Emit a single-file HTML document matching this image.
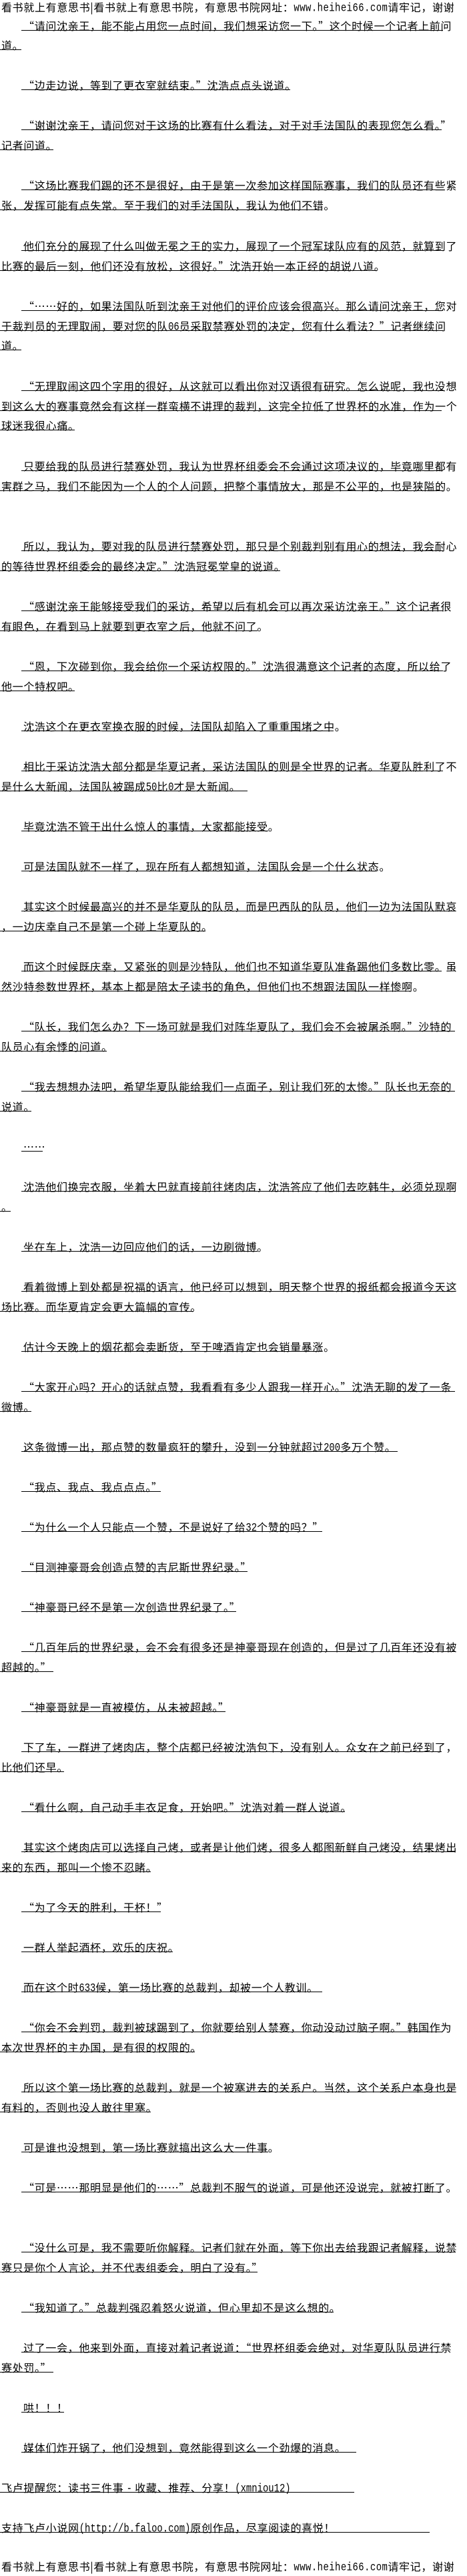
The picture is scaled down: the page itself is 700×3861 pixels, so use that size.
<!DOCTYPE html>
<html lang="zh-CN">
<head>
<meta charset="utf-8">
<title>有意思书院</title>
<style>
html,body{margin:0;padding:0;background:#fff}
body{position:relative;width:700px;height:3860px;overflow:hidden;color:#000;
font-family:"Liberation Sans","WenQuanYi Zen Hei","Noto Sans CJK SC",sans-serif}
p{position:absolute;left:0;margin:-17px 0 0;width:700px;height:20px;padding:0 0 0 2px;box-sizing:border-box;
font-family:"WenQuanYi Zen Hei","Noto Sans CJK SC",sans-serif;font-size:16px;line-height:20px;letter-spacing:.67px;white-space:nowrap}
p.i{padding-left:35px}
p::after{content:"";position:absolute;left:0;top:17px;height:1px;background:#000;width:var(--e)}
p.i::after{left:32px;width:calc(var(--e) - 32px)}
p.n::after{display:none}
b{display:inline-block;font:normal 13.9px/20px "Liberation Mono",monospace;letter-spacing:0;transform:scaleY(1.25);transform-origin:50% 15px}
p.n b{letter-spacing:.47px}
</style>
</head>
<body>
<p class="n" style="top:17px">看书就上有意思书|看书就上有意思书院，有意思书院网址：<b>www.heihei66.com</b>请牢记，谢谢</p>
<p class="i" style="top:45px;--e:664px">“请问沈亲王，能不能占用您一点时间，我们想采访您一下。”这个时候一个记者上前问</p>
<p style="top:74px;--e:32px">道。</p>
<p class="i" style="top:134px;--e:435px">“边走边说，等到了更衣室就结束。”沈浩点点头说道。</p>
<p class="i" style="top:194px;--e:662px">“谢谢沈亲王，请问您对于这场的比赛有什么看法，对于对手法国队的表现您怎么看。”</p>
<p style="top:224px;--e:80px">记者问道。</p>
<p class="i" style="top:284px;--e:664px">“这场比赛我们踢的还不是很好，由于是第一次参加这样国际赛事，我们的队员还有些紧</p>
<p style="top:314px;--e:483px">张，发挥可能有点失常。至于我们的对手法国队，我认为他们不错。</p>
<p class="i" style="top:375px;--e:664px">他们充分的展现了什么叫做无冕之王的实力，展现了一个冠军球队应有的风范，就算到了</p>
<p style="top:405px;--e:565px">比赛的最后一刻，他们还没有放松，这很好。”沈浩开始一本正经的胡说八道。</p>
<p class="i" style="top:465px;--e:664px">“……好的，如果法国队听到沈亲王对他们的评价应该会很高兴。那么请问沈亲王，您对</p>
<p style="top:495px;--e:664px">于裁判员的无理取闹，要对您的队<b>06</b>员采取禁赛处罚的决定，您有什么看法？”记者继续问</p>
<p style="top:524px;--e:32px">道。</p>
<p class="i" style="top:585px;--e:664px">“无理取闹这四个字用的很好，从这就可以看出你对汉语很有研究。怎么说呢，我也没想</p>
<p style="top:615px;--e:662px">到这么大的赛事竟然会有这样一群蛮横不讲理的裁判，这完全拉低了世界杯的水准，作为一个</p>
<p style="top:644px;--e:112px">球迷我很心痛。</p>
<p class="i" style="top:705px;--e:664px">只要给我的队员进行禁赛处罚，我认为世界杯组委会不会通过这项决议的，毕竟哪里都有</p>
<p style="top:735px;--e:664px">害群之马，我们不能因为一个人的个人问题，把整个事情放大，那是不公平的，也是狭隘的。</p>
<p class="i" style="top:825px;--e:664px">所以，我认为，要对我的队员进行禁赛处罚，那只是个别裁判别有用心的想法，我会耐心</p>
<p style="top:855px;--e:420px">的等待世界杯组委会的最终决定。”沈浩冠冕堂皇的说道。</p>
<p class="i" style="top:915px;--e:664px">“感谢沈亲王能够接受我们的采访，希望以后有机会可以再次采访沈亲王。”这个记者很</p>
<p style="top:945px;--e:386px">有眼色，在看到马上就要到更衣室之后，他就不问了。</p>
<p class="i" style="top:1005px;--e:664px">“恩，下次碰到你，我会给你一个采访权限的。”沈浩很满意这个记者的态度，所以给了</p>
<p style="top:1035px;--e:112px">他一个特权吧。</p>
<p class="i" style="top:1095px;--e:500px">沈浩这个在更衣室换衣服的时候，法国队却陷入了重重围堵之中。</p>
<p class="i" style="top:1155px;--e:664px">相比于采访沈浩大部分都是华夏记者，采访法国队的则是全世界的记者。华夏队胜利了不</p>
<p style="top:1185px;--e:371px">是什么大新闻，法国队被踢成<b>50</b>比<b>0</b>才是大新闻。</p>
<p class="i" style="top:1245px;--e:402px">毕竟沈浩不管干出什么惊人的事情，大家都能接受。</p>
<p class="i" style="top:1305px;--e:565px">可是法国队就不一样了，现在所有人都想知道，法国队会是一个什么状态。</p>
<p class="i" style="top:1365px;--e:682px">其实这个时候最高兴的并不是华夏队的队员，而是巴西队的队员，他们一边为法国队默哀</p>
<p style="top:1395px;--e:308px">，一边庆幸自己不是第一个碰上华夏队的。</p>
<p class="i" style="top:1455px;--e:662px">而这个时候既庆幸，又紧张的则是沙特队，他们也不知道华夏队准备踢他们多数比零。虽</p>
<p style="top:1485px;--e:615px">然沙特参数世界杯，基本上都是陪太子读书的角色，但他们也不想跟法国队一样惨啊。</p>
<p class="i" style="top:1545px;--e:682px">“队长，我们怎么办？下一场可就是我们对阵华夏队了，我们会不会被屠杀啊。”沙特的</p>
<p style="top:1575px;--e:160px">队员心有余悸的问道。</p>
<p class="i" style="top:1635px;--e:682px">“我去想想办法吧，希望华夏队能给我们一点面子，别让我们死的太惨。”队长也无奈的</p>
<p style="top:1665px;--e:47px">说道。</p>
<p class="i" style="top:1725px;--e:64px">……</p>
<p class="i" style="top:1785px;--e:682px">沈浩他们换完衣服，坐着大巴就直接前往烤肉店，沈浩答应了他们去吃韩牛，必须兑现啊</p>
<p style="top:1815px;--e:16px">。</p>
<p class="i" style="top:1875px;--e:386px">坐在车上，沈浩一边回应他们的话，一边刷微博。</p>
<p class="i" style="top:1935px;--e:682px">看着微博上到处都是祝福的语言，他已经可以想到，明天整个世界的报纸都会报道今天这</p>
<p style="top:1965px;--e:290px">场比赛。而华夏肯定会更大篇幅的宣传。</p>
<p class="i" style="top:2025px;--e:483px">估计今天晚上的烟花都会卖断货，至于啤酒肯定也会销量暴涨。</p>
<p class="i" style="top:2085px;--e:682px">“大家开心吗？开心的话就点赞，我看看有多少人跟我一样开心。”沈浩无聊的发了一条</p>
<p style="top:2115px;--e:47px">微博。</p>
<p class="i" style="top:2175px;--e:596px">这条微博一出，那点赞的数量疯狂的攀升，没到一分钟就超过<b>200</b>多万个赞。</p>
<p class="i" style="top:2235px;--e:241px">“我点、我点、我点点点。”</p>
<p class="i" style="top:2295px;--e:483px">“为什么一个人只能点一个赞，不是说好了给<b>32</b>个赞的吗？”</p>
<p class="i" style="top:2355px;--e:371px">“目测神豪哥会创造点赞的吉尼斯世界纪录。”</p>
<p class="i" style="top:2415px;--e:354px">“神豪哥已经不是第一次创造世界纪录了。”</p>
<p class="i" style="top:2475px;--e:682px">“几百年后的世界纪录，会不会有很多还是神豪哥现在创造的，但是过了几百年还没有被</p>
<p style="top:2505px;--e:80px">超越的。”</p>
<p class="i" style="top:2565px;--e:338px">“神豪哥就是一直被模仿，从未被超越。”</p>
<p class="i" style="top:2625px;--e:662px">下了车，一群进了烤肉店，整个店都已经被沈浩包下，没有别人。众女在之前已经到了，</p>
<p style="top:2655px;--e:96px">比他们还早。</p>
<p class="i" style="top:2715px;--e:517px">“看什么啊，自己动手丰衣足食，开始吧。”沈浩对着一群人说道。</p>
<p class="i" style="top:2775px;--e:682px">其实这个烤肉店可以选择自己烤，或者是让他们烤，很多人都图新鲜自己烤没，结果烤出</p>
<p style="top:2805px;--e:226px">来的东西，那叫一个惨不忍睹。</p>
<p class="i" style="top:2865px;--e:241px">“为了今天的胜利，干杯！”</p>
<p class="i" style="top:2925px;--e:259px">一群人举起酒杯，欢乐的庆祝。</p>
<p class="i" style="top:2985px;--e:483px">而在这个时<b>633</b>候，第一场比赛的总裁判，却被一个人教训。</p>
<p class="i" style="top:3045px;--e:662px">“你会不会判罚，裁判被球踢到了，你就要给别人禁赛，你动没动过脑子啊。”韩国作为</p>
<p style="top:3075px;--e:292px">本次世界杯的主办国，是有很的权限的。</p>
<p class="i" style="top:3135px;--e:682px">所以这个第一场比赛的总裁判，就是一个被塞进去的关系户。当然，这个关系户本身也是</p>
<p style="top:3165px;--e:226px">有料的，否则也没人敢往里塞。</p>
<p class="i" style="top:3225px;--e:402px">可是谁也没想到，第一场比赛就搞出这么大一件事。</p>
<p class="i" style="top:3285px;--e:662px">“可是……那明显是他们的……”总裁判不服气的说道，可是他还没说完，就被打断了。</p>
<p class="i" style="top:3375px;--e:682px">“没什么可是，我不需要听你解释。记者们就在外面，等下你出去给我跟记者解释，说禁</p>
<p style="top:3405px;--e:386px">赛只是你个人言论，并不代表组委会，明白了没有。”</p>
<p class="i" style="top:3465px;--e:500px">“我知道了。”总裁判强忍着怒火说道，但心里却不是这么想的。</p>
<p class="i" style="top:3525px;--e:662px">过了一会，他来到外面，直接对着记者说道：“世界杯组委会绝对，对华夏队队员进行禁</p>
<p style="top:3555px;--e:80px">赛处罚。”</p>
<p class="i" style="top:3615px;--e:96px">哄！！！</p>
<p class="i" style="top:3675px;--e:534px">媒体们炸开锅了，他们没想到，竟然能得到这么一个劲爆的消息。</p>
<p style="top:3735px;--e:531px">飞卢提醒您：读书三件事 <b>-</b> 收藏、推荐、分享！<b>(xmniou12)</b></p>
<p style="top:3795px;--e:644px">支持飞卢小说网<b>(http://b.faloo.com)</b>原创作品，尽享阅读的喜悦！</p>
<p class="n" style="top:3853px">看书就上有意思书|看书就上有意思书院，有意思书院网址：<b>www.heihei66.com</b>请牢记，谢谢</p>
</body>
</html>
